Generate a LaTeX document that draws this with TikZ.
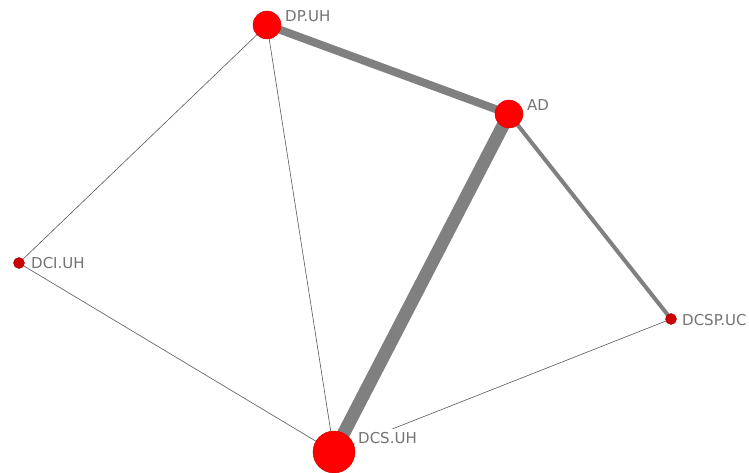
\documentclass[tikz,border=0pt]{standalone}
\usepackage{fontspec}
\setmainfont{DejaVu Sans}
\begin{document}
\begin{tikzpicture}[x=1pt,y=-1pt,
  vertex/.style={circle,fill=red,draw=red!80!black,line width=0.4pt,inner sep=0pt},
  smallvertex/.style={vertex,fill=red!80!black,draw=red!60!black,minimum size=11pt},
  lbl/.style={anchor=west,inner sep=1pt,text=gray!90!black,font=\fontsize{15}{15}\selectfont},
  thinedge/.style={draw=gray!70!black,line width=0.6pt},
  thickedge/.style={draw=gray,line cap=butt}]
\useasboundingbox (0,0) rectangle (749,472);
\clip (0,0) rectangle (749,472);
\fill[white] (0,0) rectangle (749,472);
\coordinate (dp) at (267,25);
\coordinate (ad) at (509,114);
\coordinate (dci) at (19,263);
\coordinate (dcsp) at (671,319);
\coordinate (dcs) at (334,452);
% edges
\draw[thinedge] (dp) -- (dci);
\draw[thinedge] (dp) -- (dcs);
\draw[thinedge] (dci) -- (dcs);
\draw[thinedge] (dcsp) -- (dcs);
\draw[thickedge,line width=8pt] (dp) -- (ad);
\draw[thickedge,line width=13pt] (ad) -- (dcs);
\draw[thickedge,line width=4pt] (ad) -- (dcsp);
% labels
\node[lbl] (ldp) at (284,16) {DP.UH};
\node[lbl] (lad) at (526,105) {AD};
\node[lbl] (ldci) at (30,263) {DCI.UH};
\node[lbl] (ldcsp) at (681,320) {DCSP.UC};
\node[lbl,fill=white,inner sep=3pt] (ldcs) at (355,438) {DCS.UH};
% vertices
\node[vertex,minimum size=28pt] (ndp) at (dp) {};
\node[vertex,minimum size=28pt] (nad) at (ad) {};
\node[smallvertex] (ndci) at (dci) {};
\node[smallvertex] (ndcsp) at (dcsp) {};
\node[vertex,minimum size=42pt] (ndcs) at (dcs) {};
\end{tikzpicture}
\end{document}
